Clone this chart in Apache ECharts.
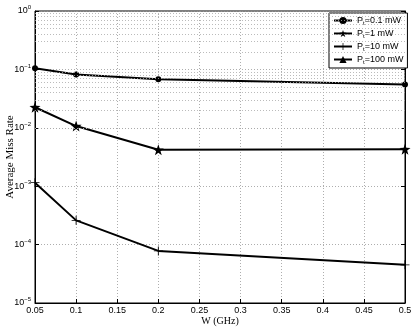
<!DOCTYPE html>
<html>
<head>
<meta charset="utf-8">
<script src="https://cdn.jsdelivr.net/npm/echarts@6/dist/echarts.min.js"></script>
<style>
  html, body { margin: 0; padding: 0; background: #fff; }
  #chart { width: 415px; height: 328px; }
</style>
</head>
<body>
<div id="chart"></div>
<script>
// W (GHz) on the x axis
const wValues = [0.05, 0.1, 0.2, 0.5];
// average miss rate per transmit power
const miss01mW = [0.105, 0.082, 0.068, 0.055];
const miss1mW = [0.0225, 0.0107, 0.0042, 0.0043];
const miss10mW = [0.00115, 0.00026, 0.000078, 0.000045];
const miss100mW = []; // below the plotted range, nothing shows
const powerLabels = ['0.1', '1', '10', '100'];

const starPath = 'path://M0,-10L2.35,-3.24L9.51,-3.09L3.8,1.24L5.88,8.09L0,4L-5.88,8.09L-3.8,1.24L-9.51,-3.09L-2.35,-3.24Z';
const plusPath = 'path://M-1,-10H1V-1H10V1H1V10H-1V1H-10V-1H-1Z';

function pairs(ys) {
    return ys.map((y, i) => [wValues[i], y]);
}

// minor grid lines at 2..9 inside every decade
let minorLines = [];
for (let e = -5; e < 0; e++) {
    for (let k = 2; k <= 9; k++) {
        minorLines.push({ yAxis: k * Math.pow(10, e) });
    }
}

const lineStyle = { color: '#000', width: 2 };
function makeSeries(i, data, symbol, size) {
    return {
        name: powerLabels[i] + ' mW',
        type: 'line',
        data: pairs(data),
        symbol: symbol,
        symbolSize: size,
        showAllSymbol: true,
        lineStyle: lineStyle,
        itemStyle: { color: '#000' },
        animation: false
    };
}

const expLabel = v => {
    const e = Math.round(Math.log10(v));
    return '{b|10}{e|' + (e < 0 ? '\u2212' + (-e) : e) + '}';
};

const myChart = echarts.init(document.getElementById('chart'));
const option = {
    backgroundColor: '#fff',
    animation: false,
    grid: {
        left: 35, right: 10, top: 11, bottom: 25,
        containLabel: false,
        outerBoundsMode: 'none',
        show: true, borderColor: '#000', borderWidth: 1
    },
    legend: {
        left: 329, top: 13,
        orient: 'vertical',
        backgroundColor: '#fff',
        borderColor: '#000',
        borderWidth: 1,
        padding: [3, 4, 3, 4],
        itemGap: 3,
        itemWidth: 18,
        itemHeight: 9,
        data: powerLabels.map(p => p + ' mW'),
        formatter: name => '{a|P}{s|t}{a|=' + name + '}',
        textStyle: {
            rich: {
                a: { fontFamily: 'Liberation Sans', fontSize: 9, color: '#000' },
                s: { fontFamily: 'Liberation Sans', fontSize: 6, color: '#000', padding: [5, 0, 0, 0] }
            }
        }
    },
    xAxis: {
        type: 'value',
        min: 0.05, max: 0.5, interval: 0.05,
        name: 'W (GHz)',
        nameLocation: 'middle',
        nameGap: 13,
        nameMoveOverlap: false,
        nameTextStyle: { fontFamily: 'Liberation Serif', fontSize: 10, color: '#000' },
        axisLine: { lineStyle: { color: '#000' } },
        axisTick: { inside: true, length: 4, lineStyle: { color: '#000' } },
        axisLabel: {
            fontFamily: 'Liberation Sans', fontSize: 9, color: '#000', margin: 3,
            formatter: v => String(+v.toFixed(2))
        },
        splitLine: { show: true, lineStyle: { color: '#999', type: [1, 2], width: 0.8 } }
    },
    yAxis: [{
        type: 'log',
        logBase: 10,
        min: 1e-5, max: 1,
        name: 'Average Miss Rate',
        nameLocation: 'middle',
        nameGap: 19,
        nameMoveOverlap: false,
        nameTextStyle: { fontFamily: 'Liberation Serif', fontSize: 11, color: '#000' },
        axisLine: { lineStyle: { color: '#000' } },
        axisTick: { inside: true, length: 4, lineStyle: { color: '#000' } },
        axisLabel: {
            margin: 4,
            formatter: expLabel,
            rich: {
                b: { fontFamily: 'Liberation Sans', fontSize: 9, color: '#000' },
                e: { fontFamily: 'Liberation Sans', fontSize: 6, color: '#000', padding: [0, 0, 7, 0] }
            }
        },
        splitLine: { show: true, lineStyle: { color: '#999', type: [1, 2], width: 0.8 } }
    }, {
        type: 'log',
        logBase: 10,
        min: 1e-5, max: 1,
        position: 'right',
        axisLine: { show: true, lineStyle: { color: '#000' } },
        axisTick: { inside: true, length: 4, lineStyle: { color: '#000' } },
        axisLabel: { show: false },
        splitLine: { show: false }
    }],
    series: [
        {
            type: 'line',
            data: [],
            silent: true,
            markLine: {
                silent: true,
                symbol: 'none',
                label: { show: false },
                lineStyle: { color: '#aaa', type: [1, 2], width: 0.8 },
                data: minorLines,
                animation: false
            }
        },
        makeSeries(0, miss01mW, 'circle', 6),
        makeSeries(1, miss1mW, starPath, 11),
        makeSeries(2, miss10mW, plusPath, 9),
        makeSeries(3, miss100mW, 'triangle', 9)
    ]
};
myChart.setOption(option);
</script>
</body>
</html>
